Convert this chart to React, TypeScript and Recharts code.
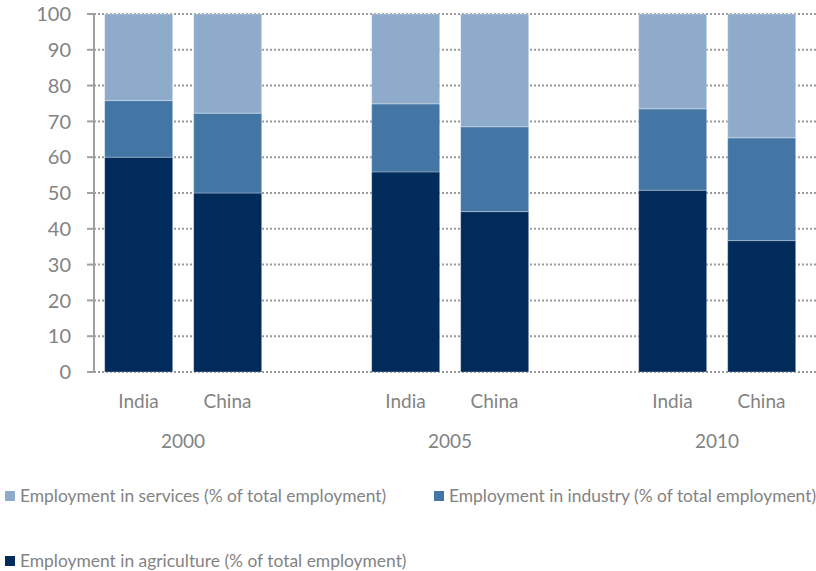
import React from "react";
import { BarChart, Bar, XAxis, YAxis, CartesianGrid } from "recharts";

/* ---------- data ---------- */
const countries = ["India", "China", "", "India", "China", "", "India", "China"];
const periods = ["2000", "", "", "2005", "", "", "2010", ""];

const agriculture = [60.0, 50.0, null, 55.9, 44.8, null, 50.8, 36.7];
const industry = [15.8, 22.3, null, 19.0, 23.7, null, 22.7, 28.7];
const services = [24.2, 27.7, null, 25.1, 31.5, null, 26.5, 34.6];

const yTicks = [0, 10, 20, 30, 40, 50, 60, 70, 80, 90, 100];

const seriesNames = {
  services: "Employment in services (% of total employment)",
  industry: "Employment in industry (% of total employment)",
  agriculture: "Employment in agriculture (% of total employment)",
};

const colors = {
  agriculture: "#002b5b",
  industry: "#4375a5",
  services: "#8fabcb",
};

const data = countries.map((c, i) => ({
  id: `slot${i}`,
  country: c,
  period: periods[i],
  agriculture: agriculture[i],
  industry: industry[i],
  services: services[i],
}));

const FONT = "Lato, 'Open Sans', sans-serif";
const GREY = "#838383";

/* ---------- x tick: country + period ---------- */
const CategoryTick = (props: any) => {
  const { x, y, index } = props;
  const row = data[index];
  if (!row) return null;
  return (
    <g>
      <text x={x} y={y + 28} textAnchor="middle" fill={GREY} fontSize={19} fontFamily={FONT}>
        {row.country}
      </text>
      {row.period ? (
        <text x={x + 44.5} y={y + 68} textAnchor="middle" fill={GREY} fontSize={19} fontFamily={FONT}>
          {row.period}
        </text>
      ) : null}
    </g>
  );
};

const LegendItem = ({ color, label, left, top }: { color: string; label: string; left: number; top: number }) => (
  <div
    style={{
      position: "absolute",
      left,
      top,
      display: "flex",
      alignItems: "center",
      fontFamily: FONT,
      fontSize: 17.4,
      color: GREY,
      whiteSpace: "nowrap",
    }}
  >
    <span style={{ width: 10, height: 10, background: color, marginRight: 5, display: "inline-block" }} />
    {label}
  </div>
);

export default function App() {
  return (
    <div style={{ position: "absolute", left: 0, top: 0, width: 816, height: 571, background: "#fff", overflow: "hidden" }}>
      <BarChart
        width={816}
        height={571}
        data={data}
        margin={{ top: 14, right: 0, left: 0, bottom: 119 }}
        barCategoryGap="12%"
      >
        <CartesianGrid vertical={false} stroke="#9a9a9a" strokeWidth={2} strokeDasharray="2 2" />
        <XAxis
          dataKey="id"
          height={80}
          axisLine={false}
          tickLine={false}
          interval={0}
          padding={{ left: 0, right: 10 }}
          tick={<CategoryTick />}
        />
        <YAxis
          width={94}
          domain={[0, 100]}
          ticks={yTicks}
          interval={0}
          stroke="#a0a0a0"
          strokeWidth={2}
          tickSize={7}
          tickMargin={16}
          tick={{ fill: GREY, fontSize: 20, fontFamily: FONT }}
        />
        <Bar dataKey="agriculture" stackId="a" fill={colors.agriculture} stroke="#ffffff" strokeOpacity={0.5} strokeWidth={0.6} isAnimationActive={false} />
        <Bar dataKey="industry" stackId="a" fill={colors.industry} stroke="#ffffff" strokeOpacity={0.5} strokeWidth={0.6} isAnimationActive={false} />
        <Bar dataKey="services" stackId="a" fill={colors.services} stroke="#ffffff" strokeOpacity={0.5} strokeWidth={0.6} isAnimationActive={false} />
      </BarChart>
      <LegendItem color={colors.services} label={seriesNames.services} left={5} top={485} />
      <LegendItem color={colors.industry} label={seriesNames.industry} left={434} top={485} />
      <LegendItem color={colors.agriculture} label={seriesNames.agriculture} left={5} top={550} />
    </div>
  );
}
